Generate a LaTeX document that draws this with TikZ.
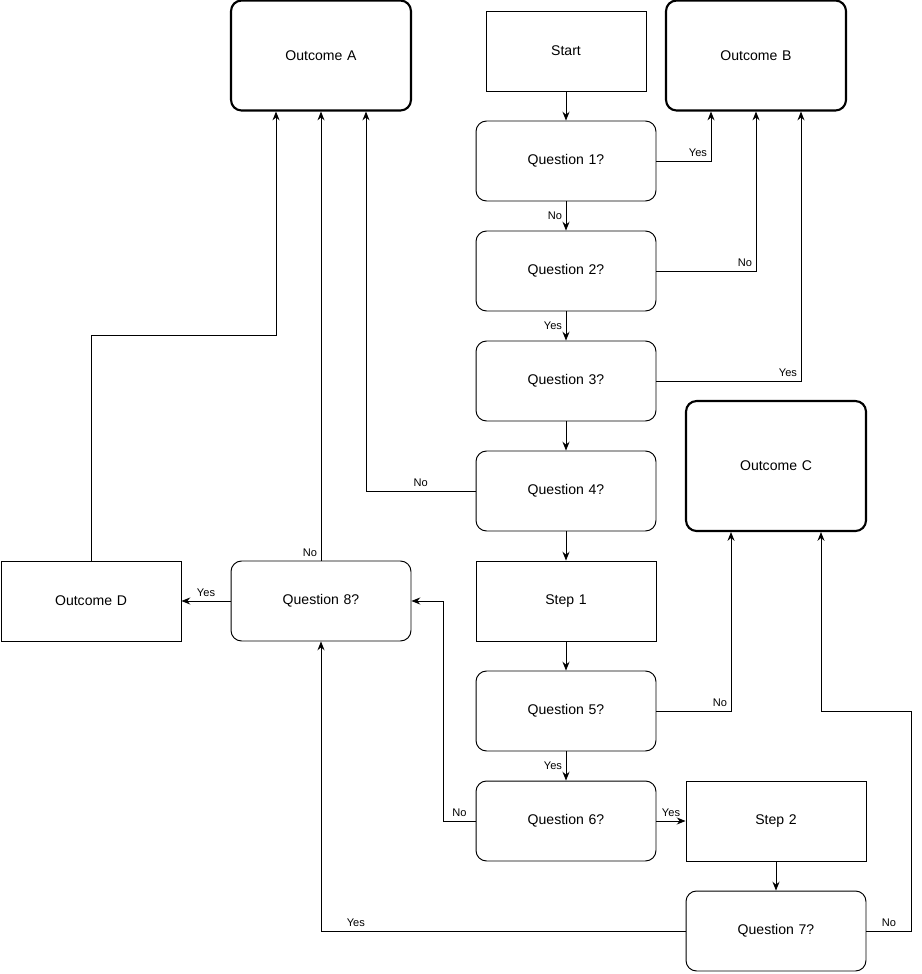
\documentclass[tikz,border=0pt]{standalone}
\usepackage{fontspec}
\setmainfont{Liberation Sans}
\usetikzlibrary{arrows.meta}
\begin{document}
\begin{tikzpicture}[x=0.02cm,y=-0.02cm,
  base/.style={draw, line width=0.55pt, minimum width=3.6cm, minimum height=1.6cm,
    text width=3.3cm, align=center, inner sep=2pt, font=\fontsize{8}{10}\selectfont},
  stepbox/.style={base},
  ask/.style={base, rounded corners=6pt},
  endbox/.style={base, rounded corners=6pt, line width=1.2pt, minimum height=2.2cm},
  arr/.style={line width=0.55pt, -{Stealth[length=5pt,width=4pt]}},
  lab/.style={inner sep=2pt, font=\fontsize{6.3}{7}\selectfont}
]
\useasboundingbox (0,0) rectangle (922,974);

\node[endbox] (oa) at (321,55.5) {Outcome A};
\node[stepbox, minimum width=3.2cm, text width=2.9cm] (st) at (566,51) {Start};
\node[endbox] (ob) at (756,55.5) {Outcome B};
\node[ask] (q1) at (566,161) {Question 1?};
\node[ask] (q2) at (566,271) {Question 2?};
\node[ask] (q3) at (566,381) {Question 3?};
\node[ask] (q4) at (566,491) {Question 4?};
\node[stepbox] (s1) at (566,601) {Step 1};
\node[ask] (q5) at (566,711) {Question 5?};
\node[ask] (q6) at (566,821) {Question 6?};
\node[stepbox] (s2) at (776,821) {Step 2};
\node[ask] (q7) at (776,931) {Question 7?};
\node[endbox, minimum height=2.6cm] (oc) at (776,466) {Outcome C};
\node[ask] (q8) at (321,601) {Question 8?};
\node[stepbox] (od) at (91,601) {Outcome D};

\draw[arr] (st) -- (q1);
\draw[arr] (q1) -- node[lab, left] {No} (q2);
\draw[arr] (q2) -- node[lab, left] {Yes} (q3);
\draw[arr] (q3) -- (q4);
\draw[arr] (q4) -- (s1);
\draw[arr] (s1) -- (q5);
\draw[arr] (q5) -- node[lab, left] {Yes} (q6);
\draw[arr] (q6) -- node[lab, above] {Yes} (s2);
\draw[arr] (s2) -- (q7);

\draw[arr] (q1.east) -| node[lab, pos=0.5, above left] {Yes} ([xshift=-0.9cm]ob.south);
\draw[arr] (q2.east) -| node[lab, pos=0.5, above left] {No} (ob.south);
\draw[arr] (q3.east) -| node[lab, pos=0.5, above left] {Yes} ([xshift=0.9cm]ob.south);
\draw[arr] (q4.west) -| node[lab, pos=0.25, above] {No} ([xshift=0.9cm]oa.south);
\draw[arr] (q8.north) -- node[lab, at start, above left] {No} (oa.south);
\draw[arr] (q8.west) -- node[lab, midway, above] {Yes} (od.east);
\draw[arr] (od.north) -- ++(0,-225) -| ([xshift=-0.9cm]oa.south);
\draw[arr] (q5.east) -| node[lab, pos=0.5, above left] {No} ([xshift=-0.9cm]oc.south);
\draw[arr] (q6.west) -- node[lab, above] {No} ++(-32,0) |- (q8.east);
\draw[arr] (q7.west) -| node[lab, pos=0.47, above right] {Yes} (q8.south);
\draw[arr] (q7.east) -- node[lab, above] {No} ++(45,0) -- ++(0,-220) -| ([xshift=0.9cm]oc.south);
\end{tikzpicture}
\end{document}
